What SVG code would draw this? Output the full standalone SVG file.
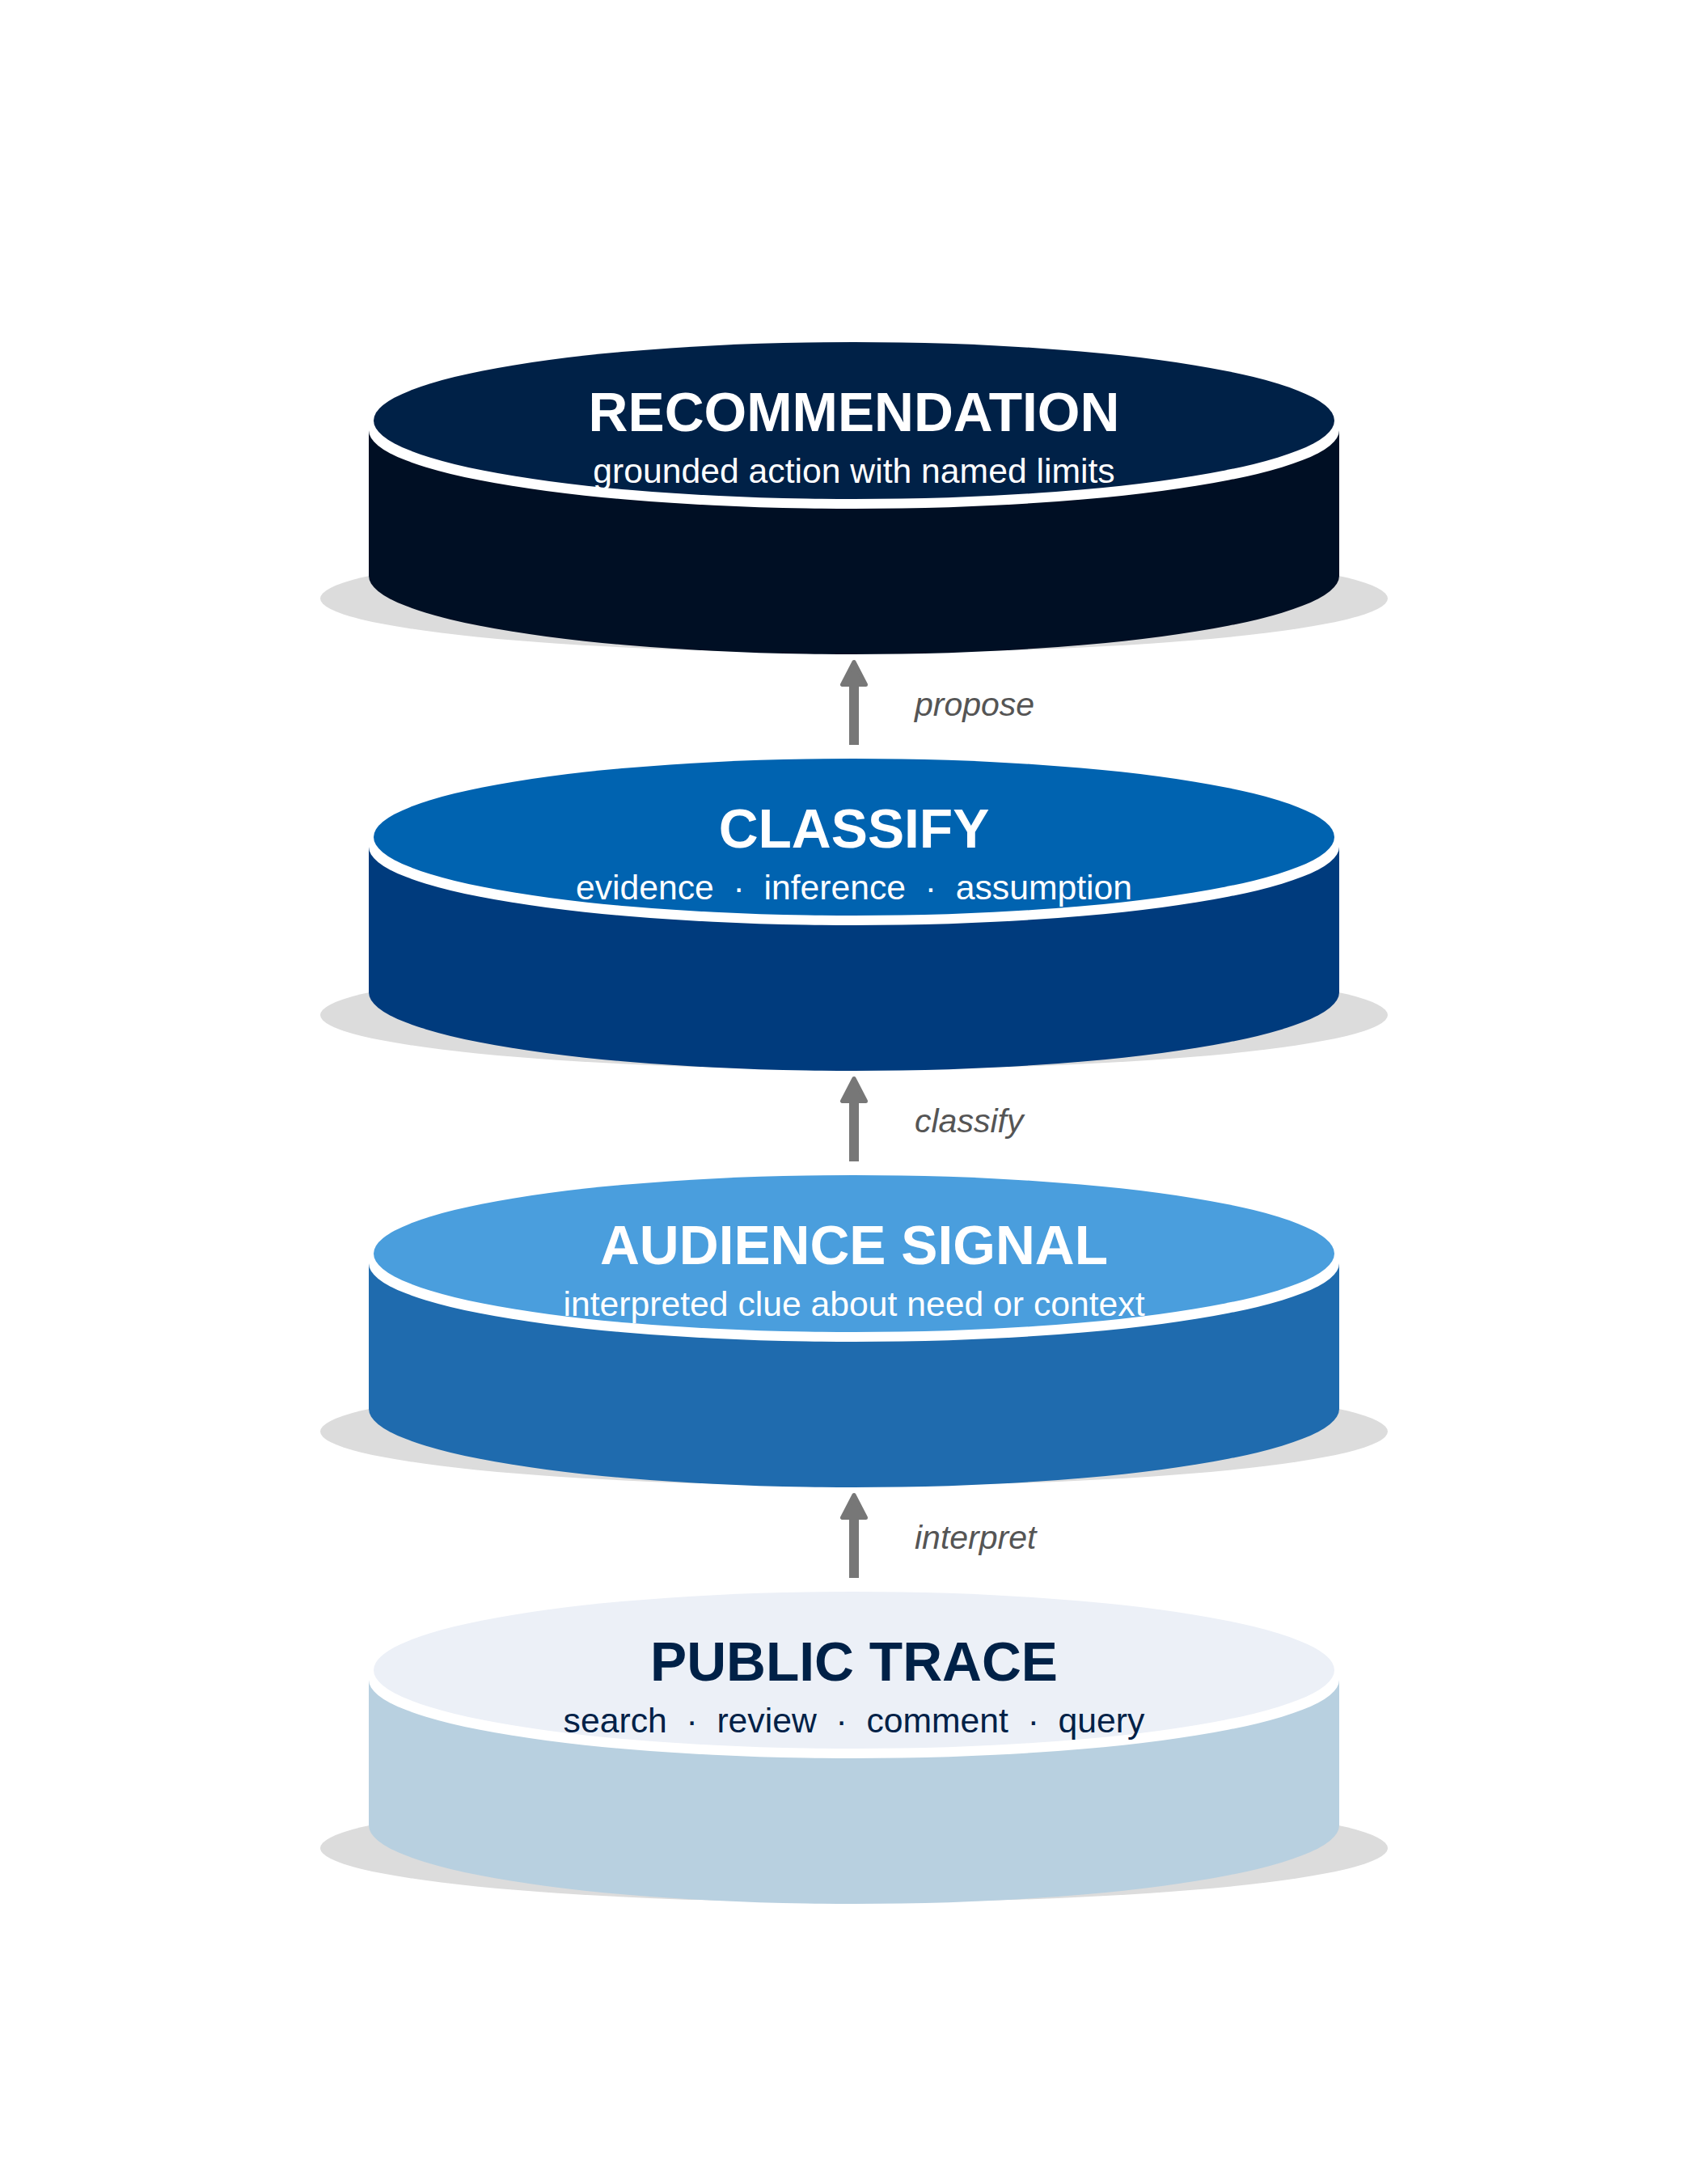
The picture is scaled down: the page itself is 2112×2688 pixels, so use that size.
<svg xmlns="http://www.w3.org/2000/svg" width="2112" height="2688" viewBox="0 0 2112 2688">
<style>
.shadow{fill:#dcdcdc}
.rim{fill:#ffffff}
.title{font-family:"Liberation Sans",Arial,sans-serif;font-weight:bold;font-size:67.7px;text-anchor:middle}
.sub{font-family:"Liberation Sans",Arial,sans-serif;font-size:42.7px;text-anchor:middle;white-space:pre}
.lbl{font-family:"Liberation Sans",Arial,sans-serif;font-style:italic;font-size:41px;fill:#555555}
.conn{stroke:#777777;stroke-width:12;fill:none;marker-end:url(#ah)}
</style>
<defs>
<marker id="ah" markerUnits="userSpaceOnUse" markerWidth="40" markerHeight="40" refX="20" refY="20" orient="auto" overflow="visible">
<path d="M36,20 L8,5.5 L8,34.5 Z" fill="#777777" stroke="#777777" stroke-width="5" stroke-linejoin="round"/>
</marker>
</defs>
<rect width="2112" height="2688" fill="#ffffff"/>

<g id="recommendation">
<ellipse class="shadow" cx="1056" cy="740" rx="660" ry="67"/>
<path d="M456,532 L456,712 A600,97 0 0 0 1656,712 L1656,532 Z" fill="#000f24"/>
<ellipse class="rim" cx="1056" cy="532" rx="600" ry="97"/>
<ellipse cx="1056" cy="520" rx="594" ry="97" fill="#002147"/>
<text class="title" x="1056" y="533" fill="#ffffff">RECOMMENDATION</text>
<text class="sub" x="1056" y="597" fill="#ffffff">grounded action with named limits</text>
</g>

<g id="classify">
<ellipse class="shadow" cx="1056" cy="1255" rx="660" ry="67"/>
<path d="M456,1047 L456,1227 A600,97 0 0 0 1656,1227 L1656,1047 Z" fill="#003b7d"/>
<ellipse class="rim" cx="1056" cy="1047" rx="600" ry="97"/>
<ellipse cx="1056" cy="1035" rx="594" ry="97" fill="#0063b0"/>
<text class="title" x="1056" y="1048" fill="#ffffff">CLASSIFY</text>
<text class="sub" x="1056" y="1112" fill="#ffffff" xml:space="preserve">evidence  ·  inference  ·  assumption</text>
</g>

<g id="audience-signal">
<ellipse class="shadow" cx="1056" cy="1770" rx="660" ry="67"/>
<path d="M456,1562 L456,1742 A600,97 0 0 0 1656,1742 L1656,1562 Z" fill="#1f6bae"/>
<ellipse class="rim" cx="1056" cy="1562" rx="600" ry="97"/>
<ellipse cx="1056" cy="1550" rx="594" ry="97" fill="#4a9edd"/>
<text class="title" x="1056" y="1563" fill="#ffffff">AUDIENCE SIGNAL</text>
<text class="sub" x="1056" y="1627" fill="#ffffff">interpreted clue about need or context</text>
</g>

<g id="public-trace">
<ellipse class="shadow" cx="1056" cy="2285" rx="660" ry="67"/>
<path d="M456,2077 L456,2257 A600,97 0 0 0 1656,2257 L1656,2077 Z" fill="#b8d0e0"/>
<ellipse class="rim" cx="1056" cy="2077" rx="600" ry="97"/>
<ellipse cx="1056" cy="2065" rx="594" ry="97" fill="#ecf0f7"/>
<text class="title" x="1056" y="2078" fill="#002147">PUBLIC TRACE</text>
<text class="sub" x="1056" y="2142" fill="#002147" xml:space="preserve">search  ·  review  ·  comment  ·  query</text>
</g>

<g id="connectors">
<path class="conn" d="M1056,921 L1056,834.5"/>
<path class="conn" d="M1056,1436 L1056,1349.5"/>
<path class="conn" d="M1056,1951 L1056,1864.5"/>
<text class="lbl" x="1131" y="885">propose</text>
<text class="lbl" x="1131" y="1400">classify</text>
<text class="lbl" x="1131" y="1915">interpret</text>
</g>
</svg>
